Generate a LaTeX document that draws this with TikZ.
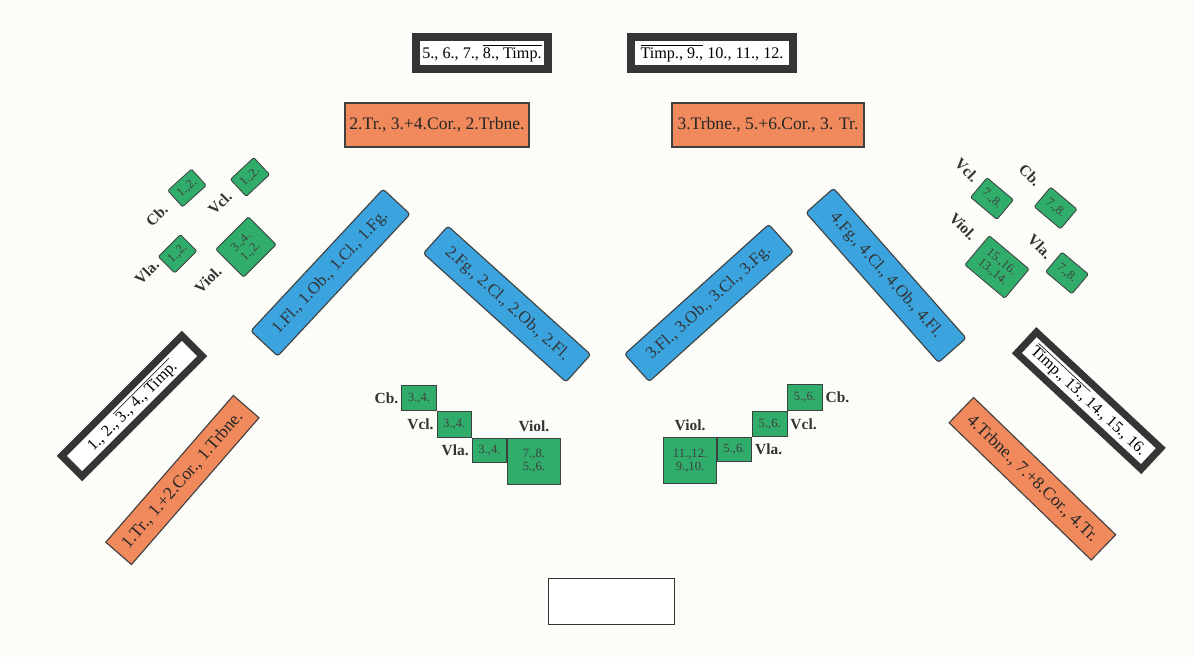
\documentclass[tikz,border=0pt]{standalone}
\usepackage{fontspec}
\setmainfont{Liberation Serif}
\usepackage{xcolor}
\usepackage{tikz}
\usetikzlibrary{positioning}
\definecolor{paper}{HTML}{FCFCF8}
\definecolor{brass}{HTML}{F08A5D}
\definecolor{wood}{HTML}{3BA4DF}
\definecolor{strings}{HTML}{31AD6B}
\definecolor{frame}{HTML}{353535}
\newcommand{\ovl}[1]{$\overline{\mbox{#1}}$}

\begin{document}
\begin{tikzpicture}[
  timp/.style={draw=frame, line width=5pt, fill=white, minimum height=0.8cm, inner sep=1pt, font=\fontsize{11.5}{12}\selectfont},
  brassbox/.style={draw=black!75, line width=0.8pt, fill=brass, minimum height=1.1cm, inner sep=1pt, font=\fontsize{12.5}{13}\selectfont, text=black!85},
  woodbox/.style={draw=black!75, line width=0.8pt, rounded corners=2pt, fill=wood, minimum height=0.92cm, inner sep=1pt, font=\fontsize{12}{13}\selectfont, text=black!80},
  strbox/.style={draw=black!75, line width=0.6pt, rounded corners=1pt, fill=strings, minimum width=0.86cm, minimum height=0.64cm, inner sep=1pt, align=center, font=\fontsize{9}{9.5}\selectfont, text=black!75},
  lab/.style={inner sep=1pt, font=\bfseries\fontsize{11}{12}\selectfont, text=black!80}
]
  \fill[paper] (0,0) rectangle (29.85,16.425);
  \useasboundingbox (0,0) rectangle (29.85,16.425);

  \node[timp, minimum width=3.3cm] (timpA) at (12.05,15.1) {5., 6., 7., \ovl{8., Timp.}};
  \node[timp, minimum width=4.05cm] (timpB) at (17.8,15.1) {\ovl{Timp., 9.,} 10., 11., 12.};
  \node[brassbox, minimum width=4.6cm] (brassA) at (10.925,13.3) {2.Tr., 3.+4.Cor., 2.Trbne.};
  \node[brassbox, minimum width=4.8cm] (brassB) at (19.2,13.3) {3.Trbne., 5.+6.Cor., 3. Tr.};

  \node[woodbox, minimum width=4.85cm, rotate=47] (woodA) at (8.26,9.61) {1.Fl., 1.Ob., 1.Cl., 1.Fg.};
  \node[woodbox, minimum width=4.8cm, rotate=-42] (woodB) at (12.675,8.825) {2.Fg., 2.Cl., 2.Ob., 2.Fl.};
  \node[woodbox, minimum width=4.85cm, rotate=42] (woodC) at (17.725,8.85) {3.Fl., 3.Ob., 3.Cl., 3.Fg.};
  \node[woodbox, minimum width=5.0cm, rotate=-48.5] (woodD) at (22.15,9.54) {4.Fg., 4.Cl., 4.Ob., 4.Fl.};

  \node[timp, minimum width=4.25cm, minimum height=0.72cm, rotate=45] (timpC) at (3.3,6.275) {1., 2., \ovl{3., 4., Timp.}};
  \node[brassbox, minimum width=4.86cm, minimum height=0.85cm, rotate=49] (brassC) at (4.56,4.425) {1.Tr., 1.+2.Cor., 1.Trbne.};
  \node[timp, minimum width=4.25cm, minimum height=0.72cm, rotate=-43] (timpD) at (27.22,6.41) {\ovl{Timp., 13.,} 14., 15., 16.};
  \node[brassbox, minimum width=4.94cm, minimum height=0.88cm, rotate=-44] (brassD) at (25.81,4.456) {4.Trbne., 7.+8.Cor., 4.Tr.};

  \node[strbox, minimum width=0.8cm, minimum height=0.55cm, rotate=42] (cbA) at (4.675,11.725) {1.,2.};
  \node[strbox, minimum width=0.8cm, minimum height=0.58cm, rotate=43] (vclA) at (6.25,12.0) {1.,2.};
  \node[strbox, minimum width=0.78cm, minimum height=0.58cm, rotate=45] (vlaA) at (4.44,10.08) {1.,2.};
  \node[strbox, minimum width=1.15cm, minimum height=0.98cm, rotate=45] (violA) at (6.15,10.25) {3.,4.\\1.,2.};
  \node[lab, rotate=45] (cbAl) at (3.92,11.05) {Cb.};
  \node[lab, rotate=45] (vclAl) at (5.5,11.35) {Vcl.};
  \node[lab, rotate=45] (vlaAl) at (3.67,9.63) {Vla.};
  \node[lab, rotate=45] (violAl) at (5.2,9.43) {Viol.};

  \node[strbox, rotate=-40] (vclB) at (24.8,11.46) {7.,8.};
  \node[strbox, rotate=-40] (cbB) at (26.39,11.225) {7.,8.};
  \node[strbox, minimum width=1.3cm, minimum height=0.95cm, rotate=-40] (violB) at (24.925,9.75) {15.,16.\\13.,14.};
  \node[strbox, rotate=-40] (vlaB) at (26.675,9.6) {7.,8.};
  \node[lab, rotate=-45] (vclBl) at (24.17,12.175) {Vcl.};
  \node[lab, rotate=-45] (cbBl) at (25.75,12.05) {Cb.};
  \node[lab, rotate=-45] (violBl) at (24.075,10.76) {Viol.};
  \node[lab, rotate=-45] (vlaBl) at (26.0,10.26) {Vla.};

  \node[strbox, rounded corners=0pt] (cbC) at (10.475,6.475) {3.,4.};
  \node[strbox, rounded corners=0pt, anchor=north west] (vclC) at (cbC.south east) {3.,4.};
  \node[strbox, rounded corners=0pt, minimum height=0.6cm, anchor=north west] (vlaC) at (vclC.south east) {3.,4.};
  \node[strbox, rounded corners=0pt, minimum width=1.32cm, minimum height=1.15cm, anchor=north west] (violC) at (vlaC.north east) {7.,8.\\5.,6.};
  \node[lab, left=1pt of cbC] (cbCl) {Cb.};
  \node[lab, left=1pt of vclC] (vclCl) {Vcl.};
  \node[lab, left=1pt of vlaC] (vlaCl) {Vla.};
  \node[lab, above=3pt of violC] (violCl) {Viol.};

  \node[strbox, rounded corners=0pt] (cbD) at (20.125,6.49) {5.,6.};
  \node[strbox, rounded corners=0pt, anchor=north east] (vclD) at (cbD.south west) {5.,6.};
  \node[strbox, rounded corners=0pt, minimum height=0.6cm, anchor=north east] (vlaD) at (vclD.south west) {5.,6.};
  \node[strbox, rounded corners=0pt, minimum width=1.32cm, minimum height=1.15cm, anchor=north east] (violD) at (vlaD.north west) {11.,12.\\9.,10.};
  \node[lab, right=1pt of cbD] (cbDl) {Cb.};
  \node[lab, right=1pt of vclD] (vclDl) {Vcl.};
  \node[lab, right=1pt of vlaD] (vlaDl) {Vla.};
  \node[lab, above=3pt of violD] (violDl) {Viol.};

  \node[draw=black!80, line width=0.8pt, fill=white, minimum width=3.15cm, minimum height=1.15cm] (cond) at (15.29,1.39) {};
\end{tikzpicture}
\end{document}
